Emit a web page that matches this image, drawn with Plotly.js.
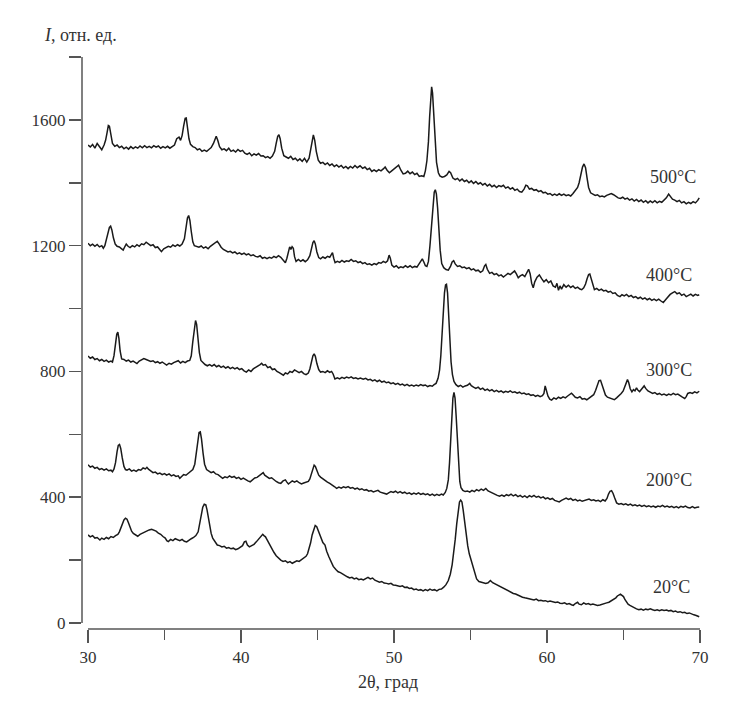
<!DOCTYPE html>
<html>
<head>
<meta charset="utf-8">
<script src="https://cdn.plot.ly/plotly-3.0.1.min.js"></script>
<style>html,body{margin:0;padding:0;background:#fff;}#chart{width:740px;height:719px;}</style>
</head>
<body>
<div id="chart"></div>
<script>
// ---- data: [2theta, intensity] pairs ----
const s500 = [[30.0,1520],[30.15,1514],[30.3,1522],[30.45,1510],[30.6,1525],[30.75,1516],[30.9,1505],[31.05,1520],[31.15,1535],[31.25,1560],[31.33,1582],[31.4,1580],[31.5,1548],[31.6,1525],[31.75,1516],[31.9,1520],[32.05,1512],[32.2,1516],[32.35,1508],[32.5,1513],[32.65,1507],[32.8,1515],[32.95,1509],[33.1,1514],[33.25,1510],[33.4,1517],[33.55,1511],[33.7,1518],[33.85,1512],[34.0,1516],[34.15,1511],[34.3,1518],[34.45,1513],[34.6,1517],[34.75,1510],[34.9,1515],[35.05,1511],[35.2,1516],[35.35,1510],[35.5,1514],[35.65,1520],[35.8,1540],[35.95,1545],[36.05,1535],[36.15,1550],[36.25,1580],[36.35,1605],[36.42,1606],[36.5,1575],[36.6,1540],[36.7,1522],[36.85,1515],[37.0,1512],[37.15,1505],[37.3,1508],[37.45,1500],[37.6,1504],[37.76,1500],[37.9,1506],[38.05,1512],[38.2,1525],[38.3,1542],[38.38,1548],[38.48,1535],[38.6,1515],[38.75,1505],[38.9,1508],[39.05,1502],[39.2,1510],[39.35,1500],[39.5,1504],[39.65,1498],[39.8,1506],[39.95,1500],[40.1,1503],[40.25,1494],[40.4,1490],[40.55,1495],[40.7,1486],[40.85,1492],[41.0,1488],[41.15,1493],[41.3,1485],[41.45,1486],[41.6,1480],[41.75,1483],[41.9,1478],[42.05,1485],[42.2,1500],[42.3,1525],[42.4,1548],[42.48,1553],[42.56,1540],[42.66,1510],[42.8,1486],[42.95,1482],[43.1,1478],[43.25,1484],[43.4,1474],[43.55,1478],[43.7,1470],[43.85,1476],[44.0,1468],[44.15,1478],[44.3,1466],[44.45,1478],[44.55,1505],[44.65,1540],[44.73,1552],[44.82,1535],[44.92,1500],[45.05,1472],[45.2,1462],[45.35,1465],[45.5,1458],[45.65,1463],[45.8,1455],[45.95,1460],[46.1,1452],[46.25,1457],[46.4,1450],[46.55,1455],[46.7,1447],[46.85,1452],[47.0,1445],[47.15,1452],[47.3,1447],[47.45,1455],[47.6,1448],[47.78,1454],[47.95,1446],[48.1,1450],[48.25,1442],[48.4,1446],[48.55,1436],[48.7,1441],[48.85,1436],[49.0,1442],[49.15,1438],[49.3,1444],[49.42,1450],[49.55,1440],[49.7,1432],[49.85,1438],[50.0,1445],[50.15,1452],[50.3,1456],[50.45,1440],[50.6,1428],[50.75,1430],[50.9,1437],[51.05,1429],[51.2,1434],[51.35,1426],[51.5,1430],[51.65,1420],[51.8,1422],[51.95,1420],[52.05,1438],[52.15,1470],[52.25,1530],[52.33,1610],[52.4,1680],[52.46,1705],[52.52,1685],[52.6,1610],[52.68,1530],[52.78,1465],[52.9,1432],[53.0,1422],[53.15,1418],[53.3,1420],[53.45,1425],[53.6,1436],[53.7,1432],[53.85,1415],[54.0,1410],[54.15,1414],[54.3,1406],[54.45,1412],[54.6,1404],[54.75,1408],[54.9,1400],[55.05,1406],[55.2,1398],[55.35,1404],[55.5,1396],[55.65,1400],[55.8,1393],[55.95,1398],[56.1,1390],[56.25,1395],[56.4,1387],[56.55,1392],[56.7,1385],[56.85,1391],[57.0,1388],[57.15,1392],[57.3,1383],[57.45,1387],[57.6,1380],[57.75,1384],[57.9,1376],[58.05,1380],[58.2,1372],[58.35,1370],[58.5,1380],[58.62,1392],[58.72,1390],[58.85,1380],[59.0,1382],[59.15,1376],[59.3,1378],[59.45,1372],[59.6,1375],[59.75,1368],[59.9,1370],[60.05,1364],[60.2,1366],[60.35,1360],[60.5,1364],[60.65,1360],[60.8,1365],[60.95,1360],[61.1,1364],[61.25,1359],[61.4,1362],[61.55,1358],[61.7,1366],[61.85,1375],[62.0,1385],[62.1,1400],[62.22,1425],[62.32,1450],[62.42,1460],[62.52,1448],[62.62,1415],[62.72,1385],[62.85,1368],[63.0,1364],[63.15,1360],[63.3,1362],[63.45,1356],[63.6,1358],[63.75,1355],[63.9,1360],[64.05,1362],[64.2,1366],[64.35,1362],[64.5,1356],[64.65,1352],[64.8,1350],[64.95,1354],[65.1,1348],[65.25,1351],[65.4,1345],[65.55,1349],[65.7,1342],[65.85,1347],[66.0,1340],[66.15,1345],[66.3,1338],[66.45,1343],[66.6,1336],[66.75,1342],[66.9,1337],[67.05,1343],[67.2,1336],[67.35,1341],[67.5,1338],[67.65,1345],[67.8,1352],[67.95,1364],[68.05,1358],[68.2,1348],[68.35,1345],[68.5,1340],[68.65,1344],[68.8,1336],[68.95,1340],[69.1,1333],[69.25,1338],[69.4,1334],[69.55,1340],[69.7,1336],[69.85,1344],[69.95,1352]];

const s400 = [[30.0,1208],[30.15,1200],[30.3,1205],[30.45,1198],[30.6,1204],[30.75,1196],[30.9,1200],[31.0,1192],[31.1,1200],[31.2,1218],[31.3,1240],[31.4,1258],[31.48,1262],[31.56,1250],[31.66,1225],[31.78,1205],[31.9,1198],[32.05,1196],[32.2,1190],[32.3,1186],[32.42,1198],[32.5,1205],[32.62,1198],[32.75,1194],[32.9,1200],[33.05,1196],[33.2,1203],[33.35,1198],[33.5,1206],[33.65,1203],[33.8,1211],[33.95,1205],[34.1,1200],[34.25,1203],[34.4,1194],[34.55,1196],[34.7,1186],[34.8,1181],[34.95,1190],[35.1,1194],[35.25,1198],[35.4,1195],[35.55,1202],[35.7,1198],[35.85,1203],[36.0,1199],[36.15,1205],[36.3,1222],[36.4,1255],[36.5,1288],[36.58,1296],[36.66,1280],[36.75,1245],[36.85,1212],[36.95,1200],[37.1,1198],[37.25,1195],[37.4,1199],[37.55,1192],[37.7,1196],[37.85,1190],[38.0,1198],[38.15,1203],[38.3,1208],[38.45,1214],[38.58,1205],[38.7,1195],[38.85,1188],[39.0,1183],[39.15,1180],[39.3,1182],[39.45,1177],[39.6,1180],[39.75,1174],[39.9,1177],[40.05,1172],[40.2,1176],[40.35,1171],[40.5,1174],[40.65,1168],[40.8,1171],[40.95,1166],[41.1,1164],[41.25,1168],[41.4,1160],[41.55,1163],[41.7,1159],[41.85,1163],[42.0,1160],[42.15,1166],[42.3,1162],[42.45,1168],[42.6,1163],[42.75,1156],[42.9,1146],[43.0,1160],[43.1,1186],[43.18,1196],[43.26,1188],[43.34,1197],[43.42,1192],[43.5,1165],[43.6,1150],[43.75,1156],[43.9,1150],[44.05,1155],[44.2,1149],[44.35,1155],[44.5,1168],[44.6,1190],[44.7,1210],[44.78,1216],[44.86,1205],[44.96,1180],[45.08,1162],[45.2,1158],[45.35,1164],[45.5,1160],[45.65,1166],[45.8,1163],[45.92,1175],[45.98,1178],[46.06,1160],[46.15,1146],[46.3,1150],[46.45,1147],[46.6,1153],[46.75,1148],[46.9,1152],[47.05,1150],[47.2,1156],[47.35,1150],[47.5,1152],[47.65,1146],[47.8,1149],[47.95,1143],[48.1,1146],[48.25,1140],[48.4,1142],[48.55,1138],[48.7,1143],[48.85,1140],[49.0,1146],[49.15,1144],[49.3,1150],[49.45,1146],[49.58,1152],[49.68,1170],[49.76,1160],[49.86,1138],[50.0,1132],[50.15,1136],[50.3,1129],[50.45,1133],[50.6,1130],[50.75,1136],[50.9,1131],[51.05,1136],[51.2,1130],[51.35,1134],[51.5,1132],[51.62,1140],[51.75,1150],[51.85,1158],[51.95,1148],[52.05,1136],[52.15,1134],[52.25,1150],[52.35,1200],[52.45,1270],[52.55,1335],[52.63,1370],[52.7,1378],[52.77,1365],[52.85,1320],[52.93,1250],[53.02,1185],[53.12,1143],[53.25,1130],[53.4,1124],[53.55,1122],[53.7,1135],[53.8,1148],[53.9,1152],[54.0,1142],[54.15,1134],[54.3,1136],[54.45,1130],[54.6,1132],[54.75,1127],[54.9,1130],[55.05,1123],[55.2,1126],[55.35,1120],[55.5,1122],[55.65,1115],[55.8,1120],[55.92,1136],[56.0,1140],[56.1,1125],[56.25,1112],[56.4,1115],[56.55,1108],[56.7,1111],[56.85,1104],[57.0,1107],[57.15,1100],[57.3,1106],[57.45,1112],[57.6,1108],[57.75,1113],[57.88,1120],[58.0,1110],[58.12,1098],[58.25,1104],[58.4,1108],[58.55,1102],[58.68,1115],[58.8,1125],[58.9,1110],[59.0,1080],[59.1,1066],[59.2,1085],[59.35,1100],[59.5,1107],[59.65,1095],[59.8,1085],[59.95,1092],[60.1,1082],[60.25,1088],[60.4,1072],[60.55,1068],[60.65,1080],[60.75,1058],[60.85,1072],[60.95,1062],[61.1,1076],[61.25,1068],[61.4,1074],[61.55,1067],[61.7,1072],[61.85,1064],[62.0,1068],[62.15,1062],[62.27,1060],[62.4,1066],[62.52,1078],[62.62,1095],[62.72,1108],[62.8,1110],[62.9,1095],[63.0,1075],[63.1,1060],[63.25,1064],[63.4,1058],[63.55,1062],[63.7,1056],[63.85,1058],[64.0,1052],[64.15,1055],[64.3,1048],[64.45,1050],[64.6,1042],[64.77,1038],[64.9,1044],[65.05,1040],[65.2,1045],[65.35,1038],[65.5,1042],[65.65,1035],[65.8,1038],[65.95,1032],[66.1,1036],[66.25,1030],[66.4,1034],[66.55,1028],[66.7,1032],[66.85,1026],[67.0,1030],[67.15,1025],[67.3,1030],[67.45,1024],[67.6,1019],[67.75,1028],[67.9,1038],[68.05,1045],[68.2,1050],[68.35,1054],[68.5,1047],[68.65,1050],[68.8,1042],[68.95,1046],[69.1,1038],[69.25,1042],[69.4,1046],[69.55,1040],[69.7,1045],[69.85,1042],[69.95,1044]];

const s300 = [[30.0,849],[30.15,842],[30.3,846],[30.45,838],[30.6,841],[30.75,834],[30.9,838],[31.05,832],[31.2,836],[31.35,830],[31.5,833],[31.6,830],[31.7,850],[31.8,890],[31.88,918],[31.95,925],[32.02,905],[32.1,865],[32.2,840],[32.35,838],[32.5,833],[32.65,836],[32.8,830],[32.95,833],[33.1,827],[33.2,825],[33.35,833],[33.5,836],[33.65,841],[33.8,838],[33.95,836],[34.1,832],[34.25,834],[34.4,828],[34.55,831],[34.7,826],[34.85,830],[35.0,824],[35.14,820],[35.3,826],[35.45,823],[35.6,828],[35.75,830],[35.9,834],[36.05,827],[36.2,832],[36.35,828],[36.5,833],[36.65,835],[36.75,850],[36.85,895],[36.95,945],[37.03,962],[37.1,950],[37.18,905],[37.28,860],[37.38,835],[37.5,828],[37.65,822],[37.8,818],[37.95,822],[38.1,817],[38.25,822],[38.4,815],[38.55,819],[38.7,813],[38.85,817],[39.0,811],[39.15,815],[39.3,809],[39.45,813],[39.6,808],[39.75,812],[39.9,806],[40.05,809],[40.2,802],[40.35,798],[40.5,805],[40.65,800],[40.8,808],[40.95,812],[41.1,818],[41.25,822],[41.35,826],[41.45,820],[41.6,822],[41.75,812],[41.9,815],[42.05,806],[42.2,808],[42.35,800],[42.5,796],[42.65,792],[42.77,788],[42.9,795],[43.05,792],[43.2,800],[43.35,797],[43.5,805],[43.65,800],[43.8,796],[43.95,800],[44.1,793],[44.25,790],[44.4,795],[44.5,808],[44.6,830],[44.7,850],[44.78,856],[44.86,848],[44.96,825],[45.08,806],[45.2,798],[45.35,800],[45.5,796],[45.65,802],[45.8,797],[45.92,800],[46.02,792],[46.14,776],[46.3,780],[46.45,776],[46.6,781],[46.75,778],[46.9,782],[47.05,779],[47.2,783],[47.35,778],[47.5,780],[47.65,776],[47.8,779],[47.99,775],[48.15,778],[48.3,773],[48.45,775],[48.6,770],[48.75,773],[48.9,768],[49.05,772],[49.2,766],[49.35,769],[49.5,764],[49.65,766],[49.8,761],[49.95,764],[50.1,759],[50.25,762],[50.4,757],[50.55,760],[50.7,755],[50.85,759],[51.0,754],[51.15,757],[51.3,753],[51.45,757],[51.6,754],[51.75,758],[51.9,755],[52.05,757],[52.2,752],[52.35,755],[52.5,753],[52.62,758],[52.75,762],[52.88,778],[52.98,805],[53.06,850],[53.14,920],[53.22,990],[53.3,1050],[53.37,1075],[53.43,1077],[53.5,1050],[53.57,985],[53.65,900],[53.73,830],[53.82,790],[53.92,768],[54.05,758],[54.2,752],[54.35,756],[54.5,750],[54.65,754],[54.8,756],[54.95,762],[55.05,755],[55.2,750],[55.35,746],[55.5,750],[55.65,743],[55.8,747],[55.95,740],[56.1,744],[56.25,738],[56.4,742],[56.55,736],[56.7,740],[56.85,735],[57.0,738],[57.15,733],[57.3,737],[57.45,734],[57.6,738],[57.75,733],[57.9,735],[58.05,731],[58.2,734],[58.35,729],[58.5,731],[58.65,727],[58.8,729],[58.95,724],[59.1,726],[59.25,721],[59.4,724],[59.55,720],[59.7,723],[59.8,730],[59.88,754],[59.96,740],[60.06,722],[60.18,712],[60.3,709],[60.45,716],[60.6,712],[60.75,718],[60.9,714],[61.05,719],[61.2,716],[61.35,722],[61.5,728],[61.6,731],[61.7,726],[61.85,718],[62.0,716],[62.15,720],[62.3,712],[62.45,714],[62.6,710],[62.75,716],[62.9,720],[63.05,726],[63.18,740],[63.3,760],[63.4,771],[63.5,772],[63.6,758],[63.7,740],[63.82,725],[63.95,718],[64.1,716],[64.25,712],[64.4,710],[64.55,716],[64.7,722],[64.85,730],[64.98,738],[65.08,752],[65.18,768],[65.26,774],[65.34,765],[65.44,745],[65.55,735],[65.65,742],[65.75,738],[65.85,748],[65.95,740],[66.05,736],[66.15,742],[66.25,748],[66.35,754],[66.45,746],[66.6,738],[66.75,734],[66.9,730],[67.05,733],[67.2,727],[67.35,730],[67.5,725],[67.65,728],[67.82,724],[67.95,728],[68.1,725],[68.25,730],[68.4,726],[68.55,728],[68.7,722],[68.85,718],[69.0,714],[69.1,720],[69.2,730],[69.35,733],[69.5,730],[69.65,735],[69.8,732],[69.95,737]];

const s200 = [[30.0,503],[30.15,496],[30.3,499],[30.45,492],[30.6,495],[30.75,488],[30.9,491],[31.05,486],[31.2,490],[31.35,484],[31.5,486],[31.6,481],[31.7,490],[31.8,510],[31.9,545],[31.98,565],[32.06,568],[32.14,555],[32.24,525],[32.35,498],[32.45,488],[32.55,486],[32.7,490],[32.85,483],[33.0,486],[33.15,482],[33.3,488],[33.45,486],[33.6,493],[33.75,490],[33.85,495],[33.95,489],[34.1,484],[34.25,478],[34.4,480],[34.55,474],[34.7,477],[34.85,472],[35.0,475],[35.14,470],[35.3,474],[35.45,468],[35.6,471],[35.75,466],[35.9,468],[36.0,460],[36.12,466],[36.25,472],[36.4,470],[36.55,476],[36.7,482],[36.85,488],[36.98,505],[37.08,540],[37.18,585],[37.26,606],[37.34,608],[37.42,585],[37.52,540],[37.62,505],[37.75,488],[37.9,484],[38.05,478],[38.2,481],[38.35,474],[38.5,472],[38.65,466],[38.8,460],[38.95,465],[39.1,462],[39.25,468],[39.4,463],[39.55,466],[39.7,460],[39.85,463],[40.0,457],[40.15,461],[40.3,455],[40.45,452],[40.6,449],[40.75,455],[40.9,461],[41.05,463],[41.2,468],[41.35,474],[41.45,478],[41.55,470],[41.7,466],[41.85,460],[42.0,462],[42.15,455],[42.3,450],[42.45,446],[42.6,444],[42.75,452],[42.9,455],[43.0,448],[43.1,442],[43.2,446],[43.35,452],[43.5,448],[43.65,452],[43.8,446],[43.95,442],[44.1,445],[44.25,448],[44.4,450],[44.5,458],[44.6,475],[44.7,492],[44.78,502],[44.86,498],[44.96,484],[45.08,470],[45.2,464],[45.35,458],[45.5,452],[45.65,448],[45.8,444],[45.95,440],[46.1,434],[46.25,428],[46.4,432],[46.55,429],[46.7,433],[46.85,430],[47.0,434],[47.15,429],[47.3,431],[47.45,426],[47.6,429],[47.75,424],[47.9,427],[48.05,422],[48.2,424],[48.35,419],[48.5,421],[48.65,417],[48.8,420],[48.95,422],[49.1,416],[49.25,414],[49.4,411],[49.52,410],[49.65,414],[49.8,418],[49.95,415],[50.1,419],[50.25,414],[50.4,418],[50.55,413],[50.7,416],[50.85,411],[51.0,414],[51.15,409],[51.3,413],[51.45,410],[51.6,414],[51.75,409],[51.9,412],[52.05,408],[52.2,411],[52.35,406],[52.5,410],[52.65,405],[52.8,409],[52.95,406],[53.1,410],[53.22,407],[53.35,415],[53.45,428],[53.55,455],[53.63,510],[53.71,590],[53.78,660],[53.85,715],[53.92,733],[53.99,715],[54.06,660],[54.14,580],[54.22,500],[54.3,450],[54.38,430],[54.5,422],[54.65,418],[54.8,420],[54.95,416],[55.1,422],[55.25,418],[55.4,424],[55.55,420],[55.7,426],[55.85,422],[56.0,428],[56.15,420],[56.3,416],[56.45,412],[56.6,410],[56.75,406],[56.9,403],[57.05,407],[57.2,403],[57.35,408],[57.5,405],[57.65,410],[57.8,404],[57.95,408],[58.1,402],[58.25,406],[58.4,400],[58.55,404],[58.7,399],[58.85,405],[59.0,401],[59.15,406],[59.3,400],[59.45,403],[59.6,398],[59.75,401],[59.9,395],[60.05,398],[60.2,393],[60.35,396],[60.5,390],[60.65,388],[60.8,385],[60.95,390],[61.1,394],[61.25,397],[61.4,393],[61.55,396],[61.7,390],[61.85,393],[62.0,388],[62.15,391],[62.3,387],[62.45,389],[62.6,392],[62.75,394],[62.9,390],[63.05,392],[63.2,388],[63.35,390],[63.5,386],[63.65,392],[63.8,388],[63.92,396],[64.02,410],[64.12,419],[64.22,421],[64.32,412],[64.42,398],[64.55,382],[64.7,378],[64.85,380],[65.0,376],[65.15,379],[65.3,375],[65.45,378],[65.6,373],[65.75,376],[65.9,372],[66.05,375],[66.2,371],[66.35,374],[66.5,370],[66.65,373],[66.8,369],[66.95,372],[67.1,368],[67.25,372],[67.4,370],[67.55,374],[67.7,369],[67.85,372],[68.0,368],[68.15,371],[68.3,367],[68.45,370],[68.6,366],[68.75,371],[68.9,368],[69.05,372],[69.2,367],[69.35,366],[69.5,370],[69.65,366],[69.8,368],[69.95,369]];

const s20 = [[30.0,280],[30.15,274],[30.3,278],[30.45,270],[30.6,272],[30.78,264],[30.9,270],[31.05,266],[31.2,272],[31.35,268],[31.5,275],[31.65,272],[31.8,278],[31.95,282],[32.05,290],[32.15,305],[32.25,318],[32.35,328],[32.45,333],[32.55,330],[32.65,318],[32.75,305],[32.85,292],[32.96,285],[33.1,280],[33.25,276],[33.4,282],[33.55,286],[33.7,290],[33.85,294],[34.0,296],[34.16,298],[34.3,295],[34.45,292],[34.6,286],[34.75,282],[34.9,275],[35.05,270],[35.15,262],[35.25,259],[35.4,266],[35.55,262],[35.7,268],[35.85,264],[36.0,262],[36.15,266],[36.3,260],[36.45,258],[36.6,264],[36.75,268],[36.9,272],[37.05,278],[37.2,290],[37.3,315],[37.4,345],[37.5,368],[37.6,378],[37.7,376],[37.78,360],[37.86,335],[37.95,305],[38.05,285],[38.15,270],[38.3,258],[38.45,248],[38.6,246],[38.75,242],[38.9,244],[39.05,238],[39.2,240],[39.35,236],[39.5,238],[39.65,233],[39.8,236],[39.95,240],[40.1,246],[40.22,258],[40.32,260],[40.42,248],[40.55,242],[40.7,246],[40.85,250],[41.0,258],[41.1,264],[41.2,270],[41.3,276],[41.42,282],[41.5,278],[41.6,274],[41.7,265],[41.8,255],[41.9,245],[42.0,238],[42.15,225],[42.3,214],[42.45,206],[42.6,200],[42.75,196],[42.9,198],[43.05,192],[43.2,195],[43.35,190],[43.5,194],[43.65,198],[43.8,196],[43.95,202],[44.1,205],[44.25,212],[44.35,220],[44.45,235],[44.55,255],[44.65,280],[44.75,300],[44.85,310],[44.95,306],[45.05,292],[45.15,278],[45.25,265],[45.35,256],[45.49,248],[45.6,228],[45.75,210],[45.9,192],[46.03,180],[46.2,170],[46.35,163],[46.5,160],[46.65,155],[46.8,150],[46.95,147],[47.1,143],[47.25,145],[47.4,140],[47.55,143],[47.7,138],[47.85,140],[48.0,137],[48.15,142],[48.3,145],[48.45,140],[48.6,143],[48.75,136],[48.9,134],[49.05,130],[49.2,132],[49.35,127],[49.52,126],[49.65,124],[49.8,126],[49.95,121],[50.1,120],[50.25,118],[50.4,116],[50.55,118],[50.7,113],[50.85,114],[51.0,110],[51.15,111],[51.3,106],[51.45,108],[51.6,104],[51.75,106],[51.9,102],[52.05,106],[52.2,103],[52.35,108],[52.5,104],[52.65,106],[52.8,102],[52.95,107],[53.1,108],[53.25,114],[53.4,122],[53.55,135],[53.68,155],[53.8,185],[53.9,220],[54.0,265],[54.1,315],[54.2,360],[54.28,385],[54.36,391],[54.44,385],[54.52,360],[54.62,320],[54.72,280],[54.82,245],[54.92,220],[55.02,202],[55.12,186],[55.25,160],[55.4,140],[55.55,132],[55.7,130],[55.85,128],[56.0,126],[56.15,128],[56.3,135],[56.45,128],[56.6,124],[56.75,121],[56.9,118],[57.05,112],[57.2,110],[57.35,106],[57.5,102],[57.65,98],[57.8,94],[57.95,92],[58.1,88],[58.25,86],[58.4,82],[58.55,80],[58.7,78],[58.85,76],[59.0,74],[59.15,73],[59.3,76],[59.45,71],[59.6,72],[59.75,70],[59.9,71],[60.05,68],[60.2,70],[60.41,68],[60.55,65],[60.7,67],[60.85,63],[61.0,62],[61.15,64],[61.3,60],[61.45,62],[61.6,58],[61.72,56],[61.85,62],[62.0,66],[62.1,60],[62.25,58],[62.4,64],[62.55,60],[62.7,62],[62.85,58],[63.0,60],[63.15,57],[63.3,56],[63.46,57],[63.6,60],[63.75,62],[63.9,64],[64.05,66],[64.2,70],[64.35,74],[64.5,80],[64.6,86],[64.7,90],[64.8,92],[64.9,88],[65.0,84],[65.1,74],[65.2,66],[65.3,60],[65.42,56],[65.55,52],[65.7,48],[65.85,45],[66.0,42],[66.15,44],[66.3,41],[66.45,44],[66.6,42],[66.75,45],[66.9,42],[67.05,40],[67.2,42],[67.35,39],[67.5,42],[67.65,40],[67.82,41],[67.95,38],[68.1,40],[68.25,36],[68.4,38],[68.55,34],[68.7,36],[68.85,33],[69.0,34],[69.15,30],[69.3,32],[69.45,28],[69.6,26],[69.75,24],[69.85,22],[69.95,20]];

const seriesLabels = ['500°C','400°C','300°C','200°C','20°C'];
const labelY = [1418, 1107, 805, 455, 115];
const labelX = [69.85, 69.6, 69.6, 69.6, 69.45];

const xTickVals = [30,40,50,60,70];
const xTickText = ['30','40','50','60','70'];
const yTickVals = [0,200,400,600,800,1000,1200,1400,1600,1800];
const yTickText = ['0','','400','','800','','1200','','1600',''];

const FONT = 'Liberation Serif, Times New Roman, serif';
const TXT = '#333333';
const AX = '#808080';

const allSeries = [s500, s400, s300, s200, s20];
const traces = allSeries.map((s, i) => ({
  type: 'scatter', mode: 'lines',
  x: s.map(p => p[0]), y: s.map(p => p[1]),
  line: {color: '#1a1a1a', width: 1.5},
  name: seriesLabels[i], showlegend: false, hoverinfo: 'skip'
}));

const annotations = seriesLabels.map((t, i) => ({
  text: t, x: labelX[i], y: labelY[i], xref: 'x', yref: 'y',
  xanchor: 'right', yanchor: 'middle', showarrow: false,
  font: {family: FONT, size: 18, color: TXT}
}));
annotations.push({
  text: '<i>I</i>, отн. ед.', xref: 'paper', yref: 'paper',
  x: -0.065, y: 1.0385, xanchor: 'left', yanchor: 'middle', showarrow: false,
  font: {family: FONT, size: 18, color: TXT}
});
annotations.push({
  text: '2θ, град', xref: 'paper', yref: 'paper',
  x: 0.495, y: -0.093, xanchor: 'center', yanchor: 'middle', showarrow: false,
  font: {family: FONT, size: 18, color: TXT}
});

const layout = {
  width: 740, height: 719,
  margin: {l: 82, r: 40, t: 57, b: 90},
  paper_bgcolor: '#fff', plot_bgcolor: '#fff',
  showlegend: false,
  font: {family: FONT, size: 17, color: TXT},
  xaxis: {
    range: [30, 70], domain: [0.0097, 1], anchor: 'free', position: 0,
    showgrid: false, zeroline: false, showline: true, linecolor: AX, linewidth: 2,
    tickmode: 'array', tickvals: xTickVals, ticktext: xTickText,
    ticks: 'outside', ticklen: 13, tickwidth: 1.5, tickcolor: '#555',
    tickfont: {family: FONT, size: 17, color: TXT},
    minor: {dtick: 5, tick0: 30, ticks: 'outside', ticklen: 10, tickwidth: 1.5, tickcolor: '#555', showgrid: false}
  },
  yaxis: {
    range: [0, 1800], domain: [0.0105, 1], anchor: 'free', position: 0,
    showgrid: false, zeroline: false, showline: true, linecolor: AX, linewidth: 2,
    tickmode: 'array', tickvals: yTickVals, ticktext: yTickText,
    ticks: 'outside', ticklen: 12, tickwidth: 1.5, tickcolor: '#555',
    tickfont: {family: FONT, size: 17, color: TXT}
  },
  annotations: annotations
};

Plotly.newPlot('chart', traces, layout, {displayModeBar: false, staticPlot: true});
</script>
</body>
</html>
